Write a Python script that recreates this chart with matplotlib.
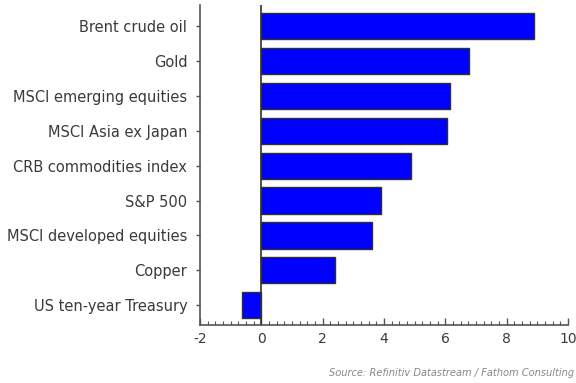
import matplotlib
matplotlib.use('Agg')
import matplotlib.pyplot as plt
from matplotlib.ticker import MultipleLocator

# Data.
labels = ['Brent crude oil', 'Gold', 'MSCI emerging equities', 'MSCI Asia ex Japan',
          'CRB commodities index', 'S&P 500', 'MSCI developed equities', 'Copper',
          'US ten-year Treasury']
values = [8.89, 6.77, 6.14, 6.05, 4.87, 3.89, 3.6, 2.39, -0.62]
xticks = [-2, 0, 2, 4, 6, 8, 10]
source = 'Source: Refinitiv Datastream / Fathom Consulting'

plt.rcParams['font.family'] = ['DejaVu Sans']
plt.rcParams['axes.unicode_minus'] = False
text_c = '#3a3a3a'

fig = plt.figure(figsize=(5.76, 3.83), dpi=100)
ax = fig.add_axes([0.347, 0.151, 0.639, 0.836])

pos = list(range(len(labels)))
ax.barh(pos, values, height=0.75, color='#0000ff', edgecolor='#303030', linewidth=1.0, zorder=2)
ax.axvline(0, color='#303030', linewidth=1.2, zorder=3)

ax.set_xlim(-2, 10)
ax.set_ylim(len(labels) - 0.43, -0.6)
ax.set_yticks(pos)
ax.set_yticklabels(labels)
ax.set_xticks(xticks)
ax.xaxis.set_minor_locator(MultipleLocator(0.25))

for s in ['top', 'right']:
    ax.spines[s].set_visible(False)
for s in ['left', 'bottom']:
    ax.spines[s].set_color('#555555')
    ax.spines[s].set_linewidth(1.2)

ax.tick_params(axis='y', direction='out', length=3, width=1, color='#555555',
               labelsize=10.5, labelcolor=text_c, pad=6)
ax.tick_params(axis='x', which='major', direction='in', length=5, width=1, color='#555555',
               labelsize=10, labelcolor=text_c, pad=5)
ax.tick_params(axis='x', which='minor', direction='in', length=3, width=0.8, color='#555555')

fig.text(0.997, 0.012, source, ha='right', va='bottom', fontsize=7.1, style='italic', color='#888888')

plt.savefig('out.png', dpi=100)
